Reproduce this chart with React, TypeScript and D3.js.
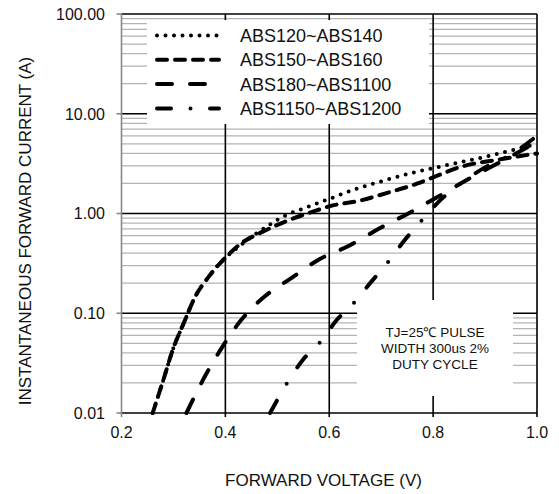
import * as d3 from 'd3'

// forward voltage (V) / forward current (A)
const voltageTicks = [0.2, 0.4, 0.6, 0.8, 1.0]
const currentTicks = [0.01, 0.1, 1, 10, 100]
const seriesNames = ['ABS120~ABS140', 'ABS150~ABS160', 'ABS180~ABS1100', 'ABS1150~ABS1200']
const noteLines = ['TJ=25℃ PULSE', 'WIDTH 300us 2%', 'DUTY CYCLE']

const abs120: [number, number][] = [
  [0.26, 0.01], [0.28, 0.021], [0.3, 0.045], [0.32, 0.08], [0.34, 0.14],
  [0.37, 0.24], [0.4, 0.36], [0.42, 0.44], [0.45, 0.58], [0.49, 0.8],
  [0.52, 0.98], [0.55, 1.12], [0.6, 1.4], [0.65, 1.75], [0.7, 2.1],
  [0.77, 2.63], [0.8, 2.85], [0.9, 3.7], [1.0, 5.0],
]
const abs150: [number, number][] = [
  [0.26, 0.01], [0.28, 0.021], [0.3, 0.045], [0.32, 0.08], [0.34, 0.14],
  [0.37, 0.24], [0.4, 0.36], [0.43, 0.5], [0.47, 0.65], [0.52, 0.85],
  [0.57, 1.05], [0.6, 1.18], [0.66, 1.35], [0.71, 1.6], [0.77, 2.0],
  [0.8, 2.3], [0.85, 2.9], [0.93, 3.5], [1.0, 4.0],
]
const abs180: [number, number][] = [
  [0.325, 0.01], [0.362, 0.024], [0.393, 0.045], [0.43, 0.085], [0.476, 0.148],
  [0.524, 0.22], [0.582, 0.35], [0.64, 0.48], [0.697, 0.71], [0.755, 1.02],
  [0.81, 1.48], [0.88, 2.4], [0.93, 3.3], [1.0, 5.2],
]
const abs1150: [number, number][] = [
  [0.486, 0.01], [0.519, 0.02], [0.549, 0.034], [0.582, 0.051], [0.614, 0.085],
  [0.649, 0.13], [0.682, 0.21], [0.712, 0.32], [0.745, 0.54], [0.778, 0.85],
  [0.81, 1.3], [0.85, 1.95], [0.9, 2.9], [0.95, 3.9], [1.0, 6.0],
]
const series = [abs120, abs150, abs180, abs1150]
const dashes = ['0 8.5', '10 8', '15 18', '14 19.5 0 19.5']

const width = 559
const height = 494
const font = 'Liberation Sans, Arial, sans-serif'

const x = d3.scaleLinear().domain([0.2, 1.0]).range([121.5, 537])
const y = d3.scaleLog().domain([0.01, 100]).range([413, 14])

const minorTicks = currentTicks
  .slice(0, -1)
  .flatMap(d => d3.range(2, 10).map(m => d * m))

const line = d3
  .line<[number, number]>()
  .x(d => x(d[0]))
  .y(d => y(d[1]))
  .curve(d3.curveMonotoneX)

const fmt = d3.format('.2f')

export default function App() {
  const [x0, x1] = x.range()
  const [yb, yt] = y.range()

  return (
    <svg
      width={width}
      height={height}
      style={{ position: 'absolute', left: 0, top: 0, background: '#fff' }}
      fontFamily={font}
    >
      <rect width={width} height={height} fill="#fff" />

      {/* minor grid */}
      {minorTicks.map(v => (
        <path key={v} d={`M ${x0} ${y(v)} H ${x1}`} stroke="#b4b4b4" strokeWidth={1.3} />
      ))}
      {/* major grid */}
      {currentTicks.map(v => (
        <path key={v} d={`M ${x0} ${y(v)} H ${x1}`} stroke="#000" strokeWidth={1.6} />
      ))}
      {voltageTicks.slice(1).map(v => (
        <path key={v} d={`M ${x(v)} ${yt} V ${yb + 4}`} stroke="#000" strokeWidth={1.6} />
      ))}
      <path d={`M ${x0} ${yt} V ${yb + 4}`} stroke="#888" strokeWidth={1.6} />
      {currentTicks.map(v => (
        <path key={v} d={`M ${x0 - 5} ${y(v)} H ${x0}`} stroke="#888" strokeWidth={1.6} />
      ))}

      {/* boxes over the grid */}
      <rect x={147} y={20} width={282} height={104} fill="#fff" />
      <rect x={357} y={300} width={156} height={96} fill="#fff" />

      {/* curves */}
      {series.map((s, i) => (
        <path
          key={i}
          d={line(s) ?? ''}
          fill="none"
          stroke="#000"
          strokeWidth={4}
          strokeLinecap="round"
          strokeDasharray={dashes[i]}
        />
      ))}

      {/* legend */}
      {seriesNames.map((name, i) => {
        const ry = 35.5 + i * 24.3
        return (
          <g key={name}>
            <path
              d={`M 157 ${ry} H 219`}
              stroke="#000"
              strokeWidth={4}
              strokeLinecap="round"
              strokeDasharray={dashes[i]}
            />
            <text x={240} y={ry + 6.5} fontSize={18} fill="#111">
              {name}
            </text>
          </g>
        )
      })}

      {/* note */}
      {noteLines.map((t, i) => (
        <text key={t} x={435} y={337 + i * 16} fontSize={13.5} textAnchor="middle" fill="#111">
          {t}
        </text>
      ))}

      {/* tick labels */}
      {currentTicks.map(v => (
        <text key={v} x={105} y={y(v) + 5.8} fontSize={16} textAnchor="end" fill="#111">
          {fmt(v)}
        </text>
      ))}
      {voltageTicks.map(v => (
        <text key={v} x={x(v)} y={438} fontSize={16} textAnchor="middle" fill="#111">
          {v.toFixed(1)}
        </text>
      ))}

      {/* axis titles */}
      <text x={323.5} y={486} fontSize={17} textAnchor="middle" fill="#111">
        FORWARD VOLTAGE (V)
      </text>
      <text
        transform={`translate(31, 231) rotate(-90)`}
        fontSize={17}
        textAnchor="middle"
        fill="#111"
      >
        INSTANTANEOUS FORWARD CURRENT (A)
      </text>
    </svg>
  )
}
